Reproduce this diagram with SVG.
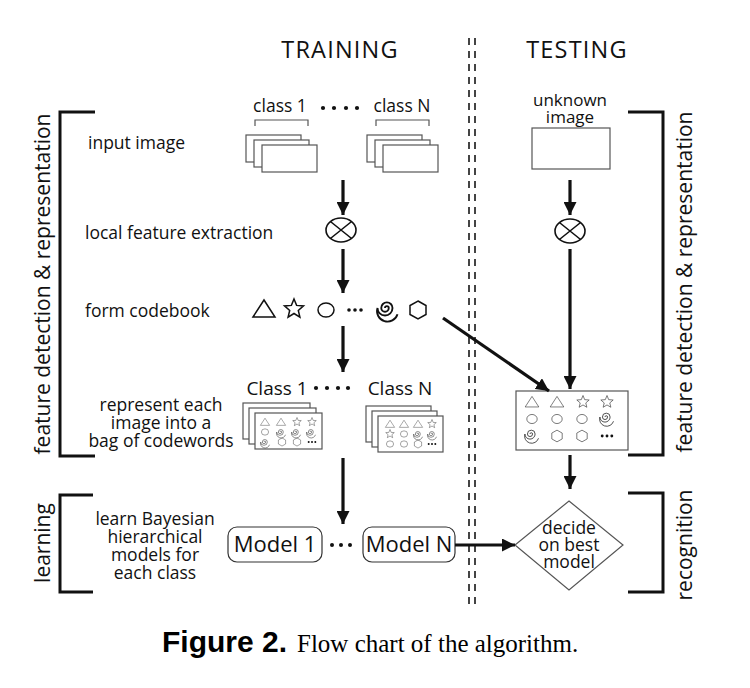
<svg xmlns="http://www.w3.org/2000/svg" xmlns:xlink="http://www.w3.org/1999/xlink" width="750" height="688" viewBox="0 0 750 688">
<style>
.t{font-family:"Open Sans","Liberation Sans",sans-serif;fill:#111}
.lbl{font-size:17.5px}
.hd{font-size:23.5px;letter-spacing:1.2px}
.vt{font-size:21px}
.page{fill:#fff;stroke:#555;stroke-width:1.2}
.sh{fill:none;stroke:#111;stroke-width:1.5;vector-effect:non-scaling-stroke}
.shs{fill:none;stroke:#333;stroke-width:1;vector-effect:non-scaling-stroke}
.arr{stroke:#111;stroke-width:3.2;fill:none;marker-end:url(#ah)}
.brk{stroke:#111;stroke-width:3;fill:none}
.div{stroke:#444;stroke-width:2;stroke-dasharray:7 6}
</style>
<defs>
<marker id="ah" viewBox="0 0 10 10" refX="10" refY="5" markerWidth="13" markerHeight="13" markerUnits="userSpaceOnUse" orient="auto">
<path d="M0,0 L10,5 L0,10 z" fill="#111"/>
</marker>
<g id="tri"><path d="M-11,8 L0,-9 L11,8 Z"/></g>
<g id="star"><path d="M0,-10 L2.6,-3.6 L9.5,-3.1 L4.3,1.4 L5.9,8.1 L0,4.5 L-5.9,8.1 L-4.3,1.4 L-9.5,-3.1 L-2.6,-3.6 Z"/></g>
<g id="circ"><ellipse cx="0" cy="0" rx="8" ry="7"/></g>
<g id="spir"><path d="M0,0 A1.5,1.5 0 1 1 3,0 A3,3 0 1 1 -3,0 A4.5,4.5 0 1 1 6,0 A6,6 0 1 1 -6,0 A7.5,7.5 0 0 0 10,5"/></g>
<g id="hex"><path d="M0,-9 L8,-4.5 L8,4.5 L0,9 L-8,4.5 L-8,-4.5 Z"/></g>
<g id="dots"><circle cx="-6" cy="0" r="1.8" fill="#111" stroke="none"/><circle cx="0" cy="0" r="1.8" fill="#111" stroke="none"/><circle cx="6" cy="0" r="1.8" fill="#111" stroke="none"/></g>
<g id="otimes"><ellipse cx="0" cy="0" rx="15" ry="12" fill="#fff" stroke="#111" stroke-width="1.6"/><path d="M-10.6,-8.5 L10.6,8.5 M10.6,-8.5 L-10.6,8.5" stroke="#111" stroke-width="1.6"/></g>
</defs>
<rect width="750" height="688" fill="#fff"/>

<g id="headers">
<text class="t hd" x="340" y="58" text-anchor="middle">TRAINING</text>
<text class="t hd" x="577" y="58" text-anchor="middle">TESTING</text>
</g>

<g id="divider">
<line class="div" x1="469" y1="38" x2="469" y2="606"/>
<line class="div" x1="475" y1="38" x2="475" y2="606"/>
</g>

<g id="bracket-left-feature">
<path class="brk" d="M95,112 H60 V456 H95"/>
<text class="t vt" transform="translate(50,284) rotate(-90)" text-anchor="middle">feature detection &amp; representation</text>
</g>
<g id="bracket-left-learning">
<path class="brk" d="M93,495 H60 V592 H93"/>
<text class="t vt" transform="translate(50,543) rotate(-90)" text-anchor="middle">learning</text>
</g>
<g id="bracket-right-feature">
<path class="brk" d="M628,112 H663 V455 H628"/>
<text class="t vt" transform="translate(692,282) rotate(-90)" text-anchor="middle">feature detection &amp; representation</text>
</g>
<g id="bracket-right-recognition">
<path class="brk" d="M628,493 H663 V592 H628"/>
<text class="t vt" transform="translate(692,545) rotate(-90)" text-anchor="middle">recognition</text>
</g>

<g id="step-labels">
<text class="t lbl" x="88" y="149">input image</text>
<text class="t lbl" x="85" y="239">local feature extraction</text>
<text class="t lbl" x="85" y="317">form codebook</text>
<text class="t lbl" x="161" y="411" text-anchor="middle">represent each</text>
<text class="t lbl" x="161" y="429" text-anchor="middle">image into a</text>
<text class="t lbl" x="161" y="447" text-anchor="middle">bag of codewords</text>
<text class="t lbl" x="155" y="525" text-anchor="middle">learn Bayesian</text>
<text class="t lbl" x="155" y="543" text-anchor="middle">hierarchical</text>
<text class="t lbl" x="155" y="561" text-anchor="middle">models for</text>
<text class="t lbl" x="155" y="579" text-anchor="middle">each class</text>
</g>

<g id="training-images">
<text class="t lbl" x="280" y="112" text-anchor="middle">class 1</text>
<text class="t lbl" x="402" y="112" text-anchor="middle">class N</text>
<g fill="#111"><circle cx="323" cy="108" r="2.1"/><circle cx="334" cy="108" r="2.1"/><circle cx="346" cy="108" r="2.1"/><circle cx="357" cy="108" r="2.1"/></g>
<path d="M255,126 V120 H308 V126 M376,126 V120 H429 V126" fill="none" stroke="#555" stroke-width="1.2"/>
<rect class="page" x="246" y="135" width="55" height="27"/>
<rect class="page" x="254" y="140" width="55" height="27"/>
<rect class="page" x="262" y="145" width="55" height="27"/>
<rect class="page" x="367" y="135" width="55" height="27"/>
<rect class="page" x="375" y="140" width="55" height="27"/>
<rect class="page" x="383" y="145" width="55" height="27"/>
</g>

<g id="train-extract"><use xlink:href="#otimes" x="341" y="230"/></g>

<g id="codebook" class="sh">
<use xlink:href="#tri" transform="translate(264,309)"/>
<use xlink:href="#star" transform="translate(294,309)"/>
<use xlink:href="#circ" transform="translate(326,310)"/>
<use xlink:href="#dots" transform="translate(355,310)"/>
<use xlink:href="#spir" transform="translate(385,308) scale(1.25)"/>
<use xlink:href="#hex" transform="translate(418,310)"/>
</g>

<g id="bags">
<text class="t" x="277" y="395" text-anchor="middle" font-size="19">Class 1</text>
<text class="t" x="400" y="395" text-anchor="middle" font-size="19">Class N</text>
<g fill="#111"><circle cx="316" cy="388" r="2.1"/><circle cx="327" cy="388" r="2.1"/><circle cx="338" cy="388" r="2.1"/><circle cx="348" cy="388" r="2.1"/></g>
<rect class="page" x="243" y="403" width="67" height="36"/>
<rect class="page" x="249" y="408" width="67" height="36"/>
<rect class="page" x="255" y="413" width="67" height="36"/>
<g class="shs">
<use xlink:href="#tri" transform="translate(265,422) scale(0.42)"/>
<use xlink:href="#tri" transform="translate(281,422) scale(0.42)"/>
<use xlink:href="#star" transform="translate(297,422) scale(0.45)"/>
<use xlink:href="#star" transform="translate(312,422) scale(0.45)"/>
<use xlink:href="#circ" transform="translate(265,432) scale(0.45)"/>
<use xlink:href="#spir" transform="translate(280,432) scale(0.55)"/>
<use xlink:href="#spir" transform="translate(295,432) scale(0.55)"/>
<use xlink:href="#spir" transform="translate(310,432) scale(0.55)"/>
<use xlink:href="#spir" transform="translate(264,442) scale(0.55)"/>
<use xlink:href="#hex" transform="translate(282,442) scale(0.45)"/>
<use xlink:href="#hex" transform="translate(297,442) scale(0.45)"/>
<use xlink:href="#dots" transform="translate(312,442) scale(0.55)"/>
</g>
<rect class="page" x="366" y="406" width="65" height="36"/>
<rect class="page" x="372" y="411" width="65" height="36"/>
<rect class="page" x="378" y="416" width="65" height="36"/>
<g class="shs">
<use xlink:href="#tri" transform="translate(390,424) scale(0.42)"/>
<use xlink:href="#tri" transform="translate(404,424) scale(0.42)"/>
<use xlink:href="#tri" transform="translate(418,424) scale(0.42)"/>
<use xlink:href="#star" transform="translate(432,424) scale(0.45)"/>
<use xlink:href="#star" transform="translate(390,434) scale(0.45)"/>
<use xlink:href="#circ" transform="translate(404,434) scale(0.45)"/>
<use xlink:href="#spir" transform="translate(417,434) scale(0.55)"/>
<use xlink:href="#spir" transform="translate(431,434) scale(0.55)"/>
<use xlink:href="#circ" transform="translate(390,444) scale(0.45)"/>
<use xlink:href="#circ" transform="translate(404,444) scale(0.45)"/>
<use xlink:href="#hex" transform="translate(418,444) scale(0.45)"/>
<use xlink:href="#dots" transform="translate(432,444) scale(0.55)"/>
</g>
</g>

<g id="models">
<rect x="228" y="527" width="94" height="35" rx="9" fill="#fff" stroke="#333" stroke-width="1.2"/>
<text class="t" x="275" y="552" text-anchor="middle" font-size="22">Model 1</text>
<g fill="#111"><circle cx="332" cy="545" r="2"/><circle cx="341" cy="545" r="2"/><circle cx="350" cy="545" r="2"/></g>
<rect x="363" y="527" width="92" height="35" rx="9" fill="#fff" stroke="#333" stroke-width="1.2"/>
<text class="t" x="409" y="552" text-anchor="middle" font-size="22">Model N</text>
</g>

<g id="unknown-image">
<text class="t" x="570" y="106" text-anchor="middle" font-size="17">unknown</text>
<text class="t" x="570" y="123" text-anchor="middle" font-size="17">image</text>
<rect class="page" x="532" y="128" width="78" height="41"/>
</g>

<g id="test-extract"><use xlink:href="#otimes" x="570" y="231"/></g>

<g id="test-bag">
<rect class="page" x="516" y="391" width="112" height="59"/>
<g class="shs">
<use xlink:href="#tri" transform="translate(532,402) scale(0.62)"/>
<use xlink:href="#tri" transform="translate(557,402) scale(0.62)"/>
<use xlink:href="#star" transform="translate(583,402) scale(0.65)"/>
<use xlink:href="#star" transform="translate(607,402) scale(0.65)"/>
<use xlink:href="#circ" transform="translate(532,419) scale(0.65)"/>
<use xlink:href="#circ" transform="translate(557,419) scale(0.65)"/>
<use xlink:href="#circ" transform="translate(582,419) scale(0.65)"/>
<use xlink:href="#spir" transform="translate(605,417) scale(0.85)"/>
<use xlink:href="#spir" transform="translate(530,434) scale(0.85)"/>
<use xlink:href="#hex" transform="translate(557,436) scale(0.65)"/>
<use xlink:href="#hex" transform="translate(582,436) scale(0.65)"/>
<use xlink:href="#dots" transform="translate(607,436) scale(0.8)"/>
</g>
</g>

<g id="decide">
<path d="M569,501 L623,545 L569,590 L515,545 Z" fill="#fff" stroke="#555" stroke-width="1.2"/>
<text class="t" x="569" y="534" text-anchor="middle" font-size="17.5">decide</text>
<text class="t" x="569" y="551" text-anchor="middle" font-size="17.5">on best</text>
<text class="t" x="569" y="568" text-anchor="middle" font-size="17.5">model</text>
</g>

<g id="connectors">
<line class="arr" x1="343" y1="180" x2="343" y2="215"/>
<line class="arr" x1="343" y1="249" x2="343" y2="293"/>
<line class="arr" x1="343" y1="326" x2="343" y2="372"/>
<line class="arr" x1="343" y1="458" x2="343" y2="524"/>
<line class="arr" x1="570" y1="180" x2="570" y2="215"/>
<line class="arr" x1="570" y1="249" x2="570" y2="389"/>
<line class="arr" x1="443" y1="318" x2="549" y2="391"/>
<line class="arr" x1="570" y1="455" x2="570" y2="489"/>
<line class="arr" x1="455" y1="545" x2="515" y2="545"/>
</g>

<g id="caption">
<text x="162" y="652" font-family="'Liberation Sans',Arial,sans-serif" font-weight="bold" font-size="30" fill="#000">Figure 2.</text>
<text x="297" y="652" font-family="'Liberation Serif','Times New Roman',serif" font-size="25" fill="#000">Flow chart of the algorithm.</text>
</g>
</svg>
